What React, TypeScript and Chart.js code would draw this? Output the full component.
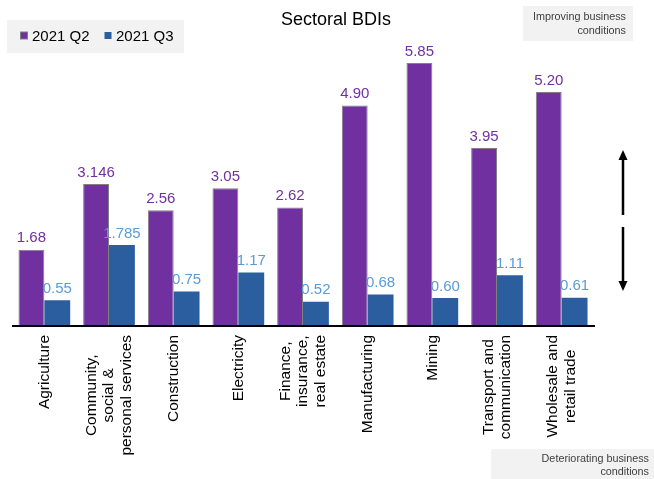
import React, { useEffect, useRef } from "react";
import { Chart, registerables } from "chart.js";

Chart.register(...registerables);

const categories: string[][] = [
  ["Agriculture"],
  ["Community,", "social &", "personal services"],
  ["Construction"],
  ["Electricity"],
  ["Finance,", "insurance,", "real estate"],
  ["Manufacturing"],
  ["Mining"],
  ["Transport and", "communication"],
  ["Wholesale and", "retail trade"],
];
const seriesNames = ["2021 Q2", "2021 Q3"];
const q2Values = [1.68, 3.146, 2.56, 3.05, 2.62, 4.9, 5.85, 3.95, 5.2];
const q3Values = [0.55, 1.785, 0.75, 1.17, 0.52, 0.68, 0.6, 1.11, 0.61];
const q2Labels = ["1.68", "3.146", "2.56", "3.05", "2.62", "4.90", "5.85", "3.95", "5.20"];
const q3Labels = ["0.55", "1.785", "0.75", "1.17", "0.52", "0.68", "0.60", "1.11", "0.61"];
const titleText = "Sectoral BDIs";
const topNote = ["Improving business", "conditions"];
const bottomNote = ["Deteriorating business", "conditions"];

const PURPLE = "#7030A0";
const BLUE = "#2A5E9E";
const PURPLE_LABEL = "#7030A0";
const BLUE_LABEL = "#5B9BD5";
const FONT = "'Liberation Sans', Arial, sans-serif";

const overlayPlugin = {
  id: "overlay",
  afterDraw(chart: any) {
    const ctx: CanvasRenderingContext2D = chart.ctx;
    const area = chart.chartArea;
    const yScale = chart.scales.y;
    const xScale = chart.scales.x;
    ctx.save();

    // axis line
    const y0 = yScale.getPixelForValue(0);
    ctx.strokeStyle = "#000";
    ctx.lineWidth = 2;
    ctx.beginPath();
    ctx.moveTo(area.left, y0 + 1);
    ctx.lineTo(area.right + 1, y0 + 1);
    ctx.stroke();

    // data labels
    const labelSets = [q2Labels, q3Labels];
    const labelColors = [PURPLE_LABEL, BLUE_LABEL];
    ctx.font = `15px ${FONT}`;
    ctx.textAlign = "center";
    ctx.textBaseline = "middle";
    chart.data.datasets.forEach((_: any, di: number) => {
      const meta = chart.getDatasetMeta(di);
      meta.data.forEach((bar: any, i: number) => {
        ctx.fillStyle = labelColors[di];
        ctx.fillText(labelSets[di][i], bar.x, bar.y - 11.5);
      });
    });

    // category labels (rotated, centered lines)
    ctx.font = `15.5px ${FONT}`;
    ctx.fillStyle = "#000";
    const lineH = 17.5;
    categories.forEach((lines, i) => {
      const cx = xScale.getPixelForValue(i);
      const maxW = Math.max(...lines.map((l) => ctx.measureText(l).width));
      const cy = y0 + 10 + maxW / 2;
      lines.forEach((line, li) => {
        const lx = cx + (li - (lines.length - 1) / 2) * lineH;
        ctx.save();
        ctx.translate(lx, cy);
        ctx.rotate(-Math.PI / 2);
        ctx.textAlign = "center";
        ctx.textBaseline = "middle";
        ctx.fillText(line, 0, 0);
        ctx.restore();
      });
    });

    // title
    ctx.font = `18px ${FONT}`;
    ctx.fillStyle = "#000";
    ctx.textAlign = "center";
    ctx.textBaseline = "middle";
    ctx.fillText(titleText, 336, 20);

    // legend
    ctx.fillStyle = "#F2F2F2";
    ctx.fillRect(7, 20, 177, 33);
    const legendColors = [PURPLE, BLUE];
    const legendX = [20.5, 104.5];
    ctx.font = `15px ${FONT}`;
    ctx.textAlign = "left";
    seriesNames.forEach((name, i) => {
      ctx.fillStyle = legendColors[i];
      ctx.fillRect(legendX[i], 32, 7, 7);
      if (i === 0) {
        ctx.strokeStyle = "#808080";
        ctx.lineWidth = 1;
        ctx.strokeRect(legendX[i], 32, 7, 7);
      }
      ctx.fillStyle = "#000";
      ctx.fillText(name, legendX[i] + 11.5, 36.5);
    });

    // notes
    ctx.fillStyle = "#F2F2F2";
    ctx.fillRect(523, 6, 110, 35);
    ctx.fillRect(491, 449, 163, 30);
    ctx.font = `10.8px ${FONT}`;
    ctx.fillStyle = "#404040";
    ctx.textAlign = "right";
    ctx.fillText(topNote[0], 626, 17);
    ctx.fillText(topNote[1], 626, 31);
    ctx.fillText(bottomNote[0], 649, 459);
    ctx.fillText(bottomNote[1], 649, 472);

    // arrows
    ctx.strokeStyle = "#000";
    ctx.fillStyle = "#000";
    ctx.lineWidth = 2.5;
    const ax = 623;
    ctx.beginPath();
    ctx.moveTo(ax, 215);
    ctx.lineTo(ax, 156);
    ctx.stroke();
    ctx.beginPath();
    ctx.moveTo(ax, 150);
    ctx.lineTo(ax - 4.5, 160);
    ctx.lineTo(ax + 4.5, 160);
    ctx.closePath();
    ctx.fill();
    ctx.beginPath();
    ctx.moveTo(ax, 227);
    ctx.lineTo(ax, 284);
    ctx.stroke();
    ctx.beginPath();
    ctx.moveTo(ax, 291);
    ctx.lineTo(ax - 4.5, 281);
    ctx.lineTo(ax + 4.5, 281);
    ctx.closePath();
    ctx.fill();

    ctx.restore();
  },
};

export default function App() {
  const canvasRef = useRef<HTMLCanvasElement | null>(null);

  useEffect(() => {
    document.body.style.margin = "0";
    const canvas = canvasRef.current;
    if (!canvas) return;
    const chart = new Chart(canvas, {
      type: "bar",
      data: {
        labels: categories.map((c) => c.join(" ")),
        datasets: [
          {
            label: seriesNames[0],
            data: q2Values,
            backgroundColor: PURPLE,
            borderColor: "#808080",
            borderWidth: 1,
            categoryPercentage: 0.8,
            barPercentage: 1.0,
          },
          {
            label: seriesNames[1],
            data: q3Values,
            backgroundColor: BLUE,
            borderWidth: 0,
            categoryPercentage: 0.8,
            barPercentage: 1.0,
          },
        ],
      },
      options: {
        responsive: false,
        animation: false,
        layout: { padding: { left: 12, right: 60, top: 33.8, bottom: 154 } },
        scales: {
          x: { display: false, offset: true },
          y: { display: false, min: 0, max: 6.5 },
        },
        plugins: {
          legend: { display: false },
          title: { display: false },
          tooltip: { enabled: false },
        },
      },
      plugins: [overlayPlugin],
    });
    return () => chart.destroy();
  }, []);

  return (
    <div style={{ position: "fixed", left: 0, top: 0, width: 654, height: 479, background: "#fff" }}>
      <canvas ref={canvasRef} width={654} height={479} style={{ display: "block" }} />
    </div>
  );
}
